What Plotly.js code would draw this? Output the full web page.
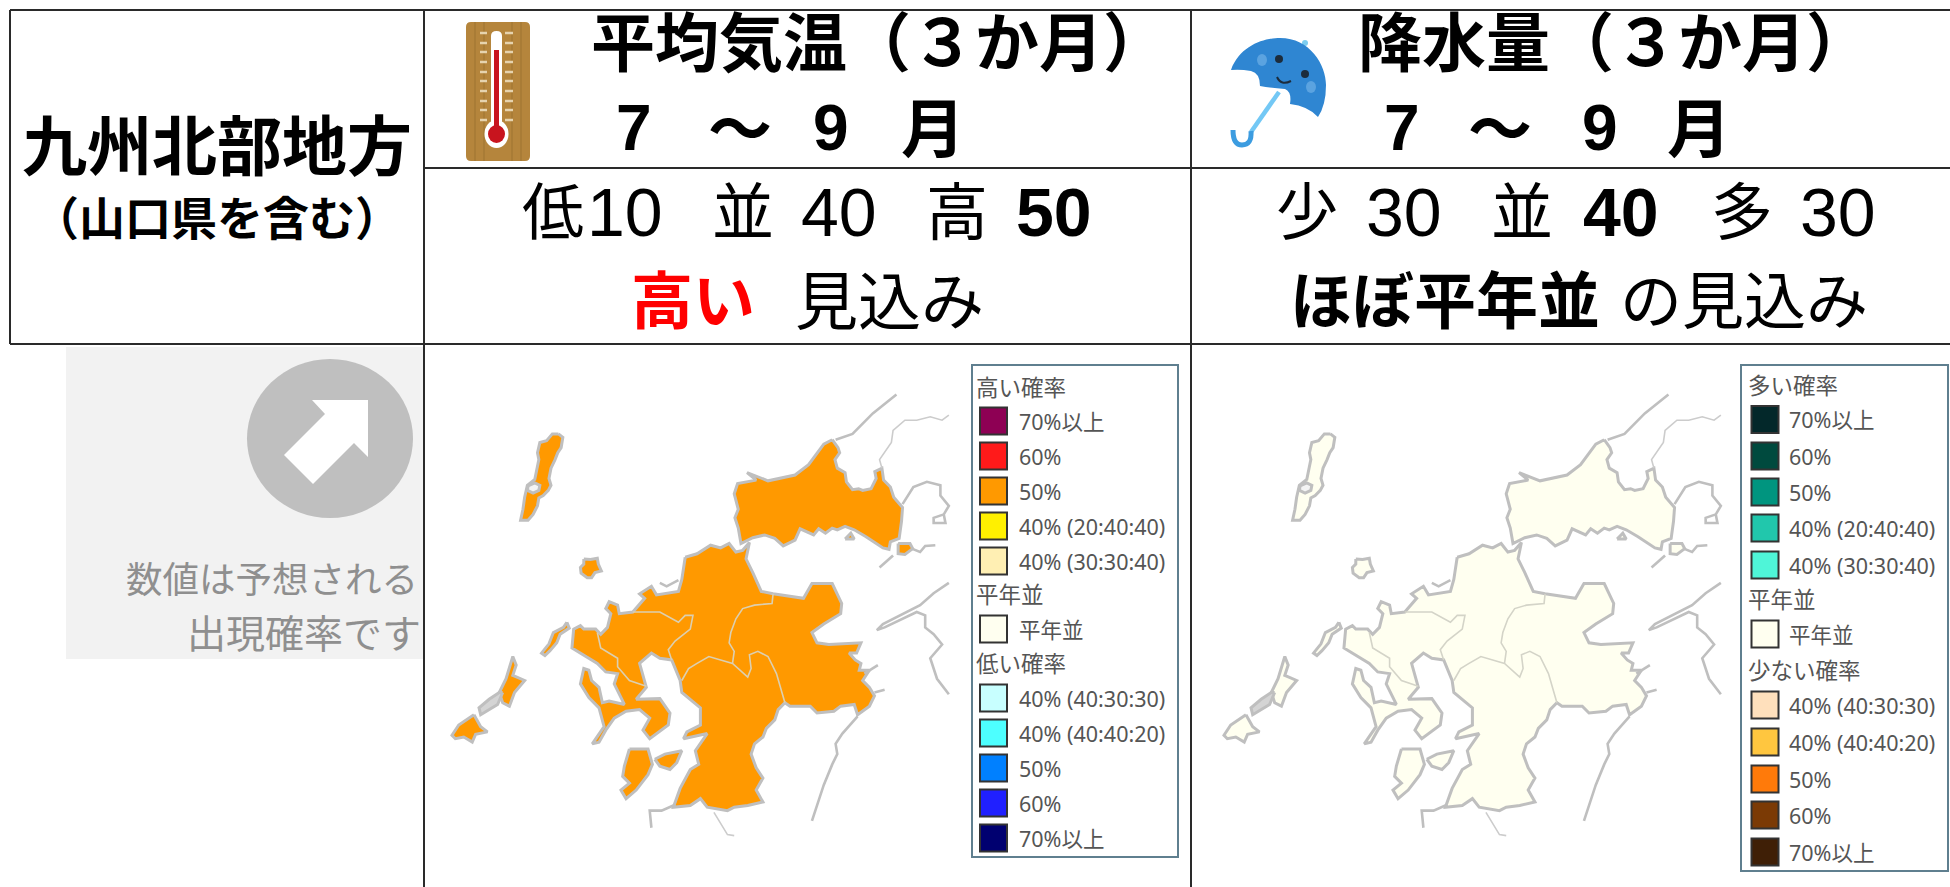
<!DOCTYPE html>
<html><head><meta charset="utf-8">
<script src="https://cdn.plot.ly/plotly-3.0.1.min.js"></script>
<style>html,body{margin:0;padding:0;background:#fff;overflow:hidden}#c{width:1950px;height:887px}</style>
</head><body><div id="c"></div>
<script>
// ---------- forecast values ----------
const tempCategories = ['低','並','高'];
const tempProb = [10,40,50];
const rainCategories = ['少','並','多'];
const rainProb = [30,40,30];

// ---------- legend content ----------
const tempLegendLabels = ['70%以上','60%','50%','40% (20:40:40)','40% (30:30:40)','平年並','40% (40:30:30)','40% (40:40:20)','50%','60%','70%以上'];
const tempLegendColors = ['#8E0054','#FF1A1A','#FF9900','#FFF000','#FFEFB3','#FFFFF0','#C8FFFF','#4DFFFF','#0080FF','#2020FF','#000070'];
const tempLegendHeads = ['高い確率','平年並','低い確率'];
const rainLegendLabels = tempLegendLabels;
const rainLegendColors = ['#03282A','#004A3E','#00957F','#21C7AC','#4FF5D8','#FFFFF0','#FFE0BC','#FFC63F','#FF7A0A','#7B3A05','#3F1F06'];
const rainLegendHeads = ['多い確率','平年並','少ない確率'];

// ---------- map geometry (map units) ----------
const tsushima = [[380,245],[393,255],[388,285],[378,300],[370,320],[358,345],[352,375],[358,395],[350,410],[335,425],[322,432],[318,455],[305,480],[290,497],[268,497],[275,465],[280,430],[288,395],[310,378],[318,345],[322,320],[318,300],[325,270],[345,265],[362,245],[380,245]];
const tsushimaGap = [[290,397],[310,388],[325,395],[322,410],[305,418],[288,410],[290,397]];
const iki = [[455,610],[475,612],[495,608],[498,625],[507,645],[488,650],[478,665],[465,665],[447,652],[445,635],[455,625],[455,610]];
const yamaguchi = [[1190,262],[1207,285],[1212,300],[1198,320],[1205,345],[1228,358],[1232,385],[1250,408],[1268,405],[1280,410],[1305,405],[1320,375],[1316,355],[1337,345],[1342,380],[1362,400],[1372,430],[1398,460],[1395,500],[1388,550],[1362,560],[1358,582],[1340,578],[1290,545],[1255,525],[1228,515],[1205,525],[1190,520],[1170,535],[1150,522],[1135,540],[1115,530],[1095,522],[1080,555],[1045,572],[1020,550],[990,540],[955,548],[920,565],[912,520],[902,490],[912,465],[900,420],[910,390],[965,380],[938,358],[1000,382],[1080,365],[1120,335],[1165,275],[1190,262]];
const oshima = [[1385,565],[1420,565],[1428,580],[1405,597],[1385,595],[1385,565]];
const bayIsle = [[1228,552],[1245,535],[1255,552],[1228,552]];
const kyushu = [[755,605],[790,595],[830,570],[860,578],[885,565],[905,590],[925,585],[945,562],[935,610],[955,650],[980,705],[1015,712],[1105,725],[1130,682],[1190,682],[1218,740],[1215,770],[1188,785],[1165,800],[1130,825],[1145,855],[1180,860],[1275,855],[1262,885],[1240,885],[1258,905],[1275,915],[1270,935],[1300,935],[1280,965],[1300,985],[1315,1010],[1300,1040],[1265,1065],[1255,1035],[1215,1040],[1195,1055],[1145,1060],[1125,1040],[1065,1040],[1050,1030],[1030,1050],[1020,1080],[995,1105],[985,1130],[960,1150],[950,1180],[965,1220],[985,1250],[965,1285],[985,1320],[940,1330],[900,1335],[880,1345],[820,1335],[800,1310],[770,1330],[720,1335],[740,1280],[770,1225],[795,1210],[785,1170],[820,1120],[750,1135],[760,1115],[800,1095],[800,1045],[745,1000],[740,965],[715,905],[680,900],[655,885],[620,915],[640,985],[610,1020],[680,1018],[710,1060],[705,1095],[650,1135],[630,1110],[650,1075],[620,1050],[580,1055],[545,1075],[520,1110],[500,1145],[480,1150],[515,1100],[500,1045],[470,1015],[445,975],[455,930],[470,935],[478,965],[500,985],[510,1030],[530,1025],[575,1035],[545,975],[555,945],[520,940],[495,915],[420,870],[425,815],[445,805],[455,815],[490,815],[505,830],[525,810],[535,770],[520,755],[530,735],[555,745],[560,770],[600,765],[635,725],[620,712],[655,690],[670,715],[735,705],[745,670],[755,605]];
const hirado = [[405,795],[412,812],[385,830],[375,855],[355,878],[340,892],[330,885],[352,858],[365,825],[395,810],[405,795]];
const fukue = [[130,1065],[150,1100],[170,1115],[135,1122],[125,1145],[100,1130],[75,1135],[65,1125],[85,1095],[130,1065]];
const nakadori = [[245,895],[255,920],[245,950],[280,965],[250,1000],[235,1040],[215,1030],[205,1000],[225,960],[235,925],[245,895]];
const gotoMid = [[215,1000],[200,1035],[150,1065],[145,1045],[175,1020],[205,1000],[215,1000]];
const amakusaW = [[590,1165],[645,1165],[658,1210],[645,1240],[610,1285],[580,1310],[565,1285],[590,1265],[570,1245],[575,1215],[590,1165]];
const amakusaE = [[665,1195],[695,1180],[745,1170],[730,1205],[710,1225],[680,1215],[665,1195]];
const landPolys = [tsushima,iki,yamaguchi,oshima,bayIsle,kyushu,hirado,fukue,nakadori,amakusaW,amakusaE];

const borderSaga = [[600,765],[680,765],[735,795],[755,775],[778,775],[770,815],[725,850],[705,875],[715,905]];
const borderSagaW = [[495,825],[505,870],[555,900],[555,925],[590,965],[640,982]];
const borderOita = [[1015,712],[1012,740],[960,745],[925,755],[905,785],[890,825],[885,855],[900,880],[895,915]];
const borderKuma = [[745,965],[765,930],[790,915],[825,895],[895,915],[940,955],[950,930],[945,890],[970,880],[1000,895],[1025,945],[1040,1000],[1050,1030]];
const innerBorders = [borderSaga,borderSagaW,borderOita,borderKuma];

const coastA = [[1200,262],[1250,245],[1310,185],[1380,130]];
const coastB = [[1398,450],[1430,400],[1470,385],[1510,395],[1510,425],[1535,455],[1520,480],[1525,505],[1490,505],[1490,490],[1520,480]];
const coastC = [[1535,680],[1490,710],[1450,745],[1400,770],[1340,800],[1322,818],[1345,810],[1440,765],[1465,775],[1465,810],[1490,830],[1515,860],[1480,900],[1500,960],[1535,1005]];
const coastD = [[1265,1070],[1220,1120],[1200,1150],[1205,1180],[1190,1210],[1165,1270],[1130,1375]];
const coastE = [[720,1330],[685,1345],[650,1345],[655,1395]];
const coastF = [[1325,920],[1285,945]];
const coastG = [[1345,992],[1315,1000]];
const coastH = [[1425,580],[1450,590],[1465,572],[1495,570]];
const coastI = [[1330,635],[1370,600]];
const coastJ = [[680,680],[700,690],[735,672]];
const coastLines = [coastA,coastB,coastC,coastD,coastE,coastF,coastG,coastH,coastI,coastJ];
const thinB = [[1337,345],[1330,320],[1365,270],[1370,235],[1405,205],[1440,205],[1480,195],[1515,205],[1535,190]];
const thinG = [[840,1350],[865,1390],[880,1415],[900,1418]];
const thinLines = [thinB,thinG];

// ---------- builders ----------
const FONT = '"Liberation Sans","Noto Sans CJK JP",sans-serif';
const xs = p => p.map(a=>a[0]), ys = p => p.map(a=>a[1]);
const traces = [];
function addMap(xa, ya, fill, inner){
  landPolys.forEach(p=>traces.push({x:xs(p),y:ys(p),xaxis:xa,yaxis:ya,mode:'lines',fill:'toself',fillcolor:fill,
    line:{color:'#BFBFBF',width:3},hoverinfo:'skip',showlegend:false}));
  [gotoMid,tsushimaGap].forEach(p=>traces.push({x:xs(p),y:ys(p),xaxis:xa,yaxis:ya,mode:'lines',fill:'toself',fillcolor:p===gotoMid?'#D4D4D4':'#F4F4F4',
    line:{color:'#BFBFBF',width:3},hoverinfo:'skip',showlegend:false}));
  innerBorders.forEach(p=>traces.push({x:xs(p),y:ys(p),xaxis:xa,yaxis:ya,mode:'lines',
    line:{color:inner,width:1.6},hoverinfo:'skip',showlegend:false}));
  coastLines.forEach(p=>traces.push({x:xs(p),y:ys(p),xaxis:xa,yaxis:ya,mode:'lines',
    line:{color:'#BFBFBF',width:2.6},hoverinfo:'skip',showlegend:false}));
  thinLines.forEach(p=>traces.push({x:xs(p),y:ys(p),xaxis:xa,yaxis:ya,mode:'lines',
    line:{color:'#CCCCCC',width:1.6},hoverinfo:'skip',showlegend:false}));
}
addMap('x2','y2','#FF9900','#DCCFB0');
addMap('x3','y3','#FFFFF0','#D4D4C8');

const ann = [];
function T(text,x,y,size,opt){opt=opt||{};
  ann.push({text:opt.bold?'<b>'+text+'</b>':text,x:x,y:y,xref:'x',yref:'y',xanchor:opt.anchor||'center',yanchor:'middle',
    showarrow:false,font:{family:opt.family||FONT,size:size,color:opt.color||'#000'},borderpad:0,align:'left',valign:'middle'});}

// legends
const LF='"Noto Sans","Noto Sans CJK JP",sans-serif';
function addLegend(labels,colors,heads,swX,labX,headX,rowY,headY){
  traces.push({x:colors.map(()=>swX),y:rowY,mode:'markers',xaxis:'x',yaxis:'y',hoverinfo:'skip',showlegend:false,
    marker:{symbol:'square',size:27,color:colors,line:{color:'#333',width:2}}});
  labels.forEach((l,i)=>T(l,labX,rowY[i],21.5,{anchor:'left',color:'#555',family:LF}));
  heads.forEach((h,i)=>T(h,headX,headY[i],22.5,{anchor:'left',color:'#555',family:LF}));
}
addLegend(tempLegendLabels,tempLegendColors,tempLegendHeads,993.5,1018,975,[421,456,491,526,561,629,698,733,768,803,838],[387,594,663]);
addLegend(rainLegendLabels,rainLegendColors,rainLegendHeads,1765,1788,1747,[419.5,456,492,528,565,634,705,742,779,815,852],[385,599,670]);

// header texts
T('九州北部地方',217,147,65,{bold:true});
T('（山口県を含む）',217,219,46,{bold:true});
T('平均気温（３か月）',879,44,64,{bold:true});
T('7',634,128,64,{bold:true}); T('～',740,130,64,{bold:true}); T('9',831,128,64,{bold:true}); T('月',933,130,64,{bold:true});
T('降水量（３か月）',1614,44,64,{bold:true});
T('7',1402,128,64,{bold:true}); T('～',1500,130,64,{bold:true}); T('9',1600,128,64,{bold:true}); T('月',1699,130,64,{bold:true});

const tempX=[[553,625],[743,839],[957,1054]], rainX=[[1307,1404],[1522,1621],[1742,1838]];
tempCategories.forEach((c,i)=>{T(c,tempX[i][0],213,62);T(String(tempProb[i]),tempX[i][1],212,68,{bold:tempProb[i]===Math.max(...tempProb)});});
rainCategories.forEach((c,i)=>{T(c,rainX[i][0],213,62);T(String(rainProb[i]),rainX[i][1],212,68,{bold:i===1});});
T('高い',693,302,62,{bold:true,color:'#FF0000'});
T('見込み',889,302,63);
T('ほぼ平年並',1445,302,62,{bold:true});
T('の見込み',1744,302,62);
T('数値は予想される',419,580,36.5,{anchor:'right',color:'#8F8F8F'});
T('出現確率です',422,634,39,{anchor:'right',color:'#8F8F8F'});

// shapes
const S=[];
const L=(x0,y0,x1,y1,c,w)=>S.push({type:'line',xref:'x',yref:'y',x0,y0,x1,y1,line:{color:c||'#2A2A2A',width:w||2},layer:'above'});
const P=(path,fill,lc,lw)=>S.push({type:'path',xref:'x',yref:'y',path,fillcolor:fill||'rgba(0,0,0,0)',line:{color:lc||'rgba(0,0,0,0)',width:lw||0},layer:'above'});
const C=(cx,cy,rx,ry,fill)=>S.push({type:'circle',xref:'x',yref:'y',x0:cx-rx,x1:cx+rx,y0:cy-ry,y1:cy+ry,fillcolor:fill,line:{width:0},layer:'above'});
// gray panel
S.push({type:'rect',xref:'x',yref:'y',x0:66,x1:423,y0:347,y1:659,fillcolor:'#F2F2F2',line:{width:0},layer:'below'});
S.push({type:'circle',xref:'x',yref:'y',x0:247,x1:413,y0:359,y1:518,fillcolor:'#BFBFBF',line:{width:0},layer:'below'});
S.push({type:'path',xref:'x',yref:'y',path:'M312,400 L368,400 L368,457 L354,443 L313,484 L284,455 L325,414 Z',fillcolor:'#FFF',line:{width:0},layer:'below'});
// legend boxes
S.push({type:'rect',xref:'x',yref:'y',x0:972,x1:1178,y0:365,y1:857,fillcolor:'#FFF',line:{color:'#5F7F8F',width:2},layer:'below'});
S.push({type:'rect',xref:'x',yref:'y',x0:1741,x1:1948,y0:365,y1:871,fillcolor:'#FFF',line:{color:'#5F7F8F',width:2},layer:'below'});
// table
L(10,10,1950,10);L(10,344,1950,344);L(10,10,10,344);L(424,10,424,887);L(1191,10,1191,887);L(424,168,1950,168);
// thermometer
P('M471,22 L525,22 Q530,22 530,27 L530,156 Q530,161 525,161 L471,161 Q466,161 466,156 L466,27 Q466,22 471,22 Z','#B5853C');
[475,484,512,521].forEach(x=>L(x,22,x,161,'#A67A35',1.5));
[33,43,52,62,72,81,91,101,110,120].forEach(y=>{L(480,y,487,y,'#E6D3AE',2.5);L(505,y,513,y,'#E6D3AE',2.5);});
P('M491,36 Q491,31 496.5,31 Q502,31 502,36 L502,124 L491,124 Z','#FFF');
C(496.5,134,12,14,'#FFF');
P('M494,50 L499,50 L499,130 L494,130 Z','#C8141E');
C(496.5,134,8.5,9,'#C8141E');
// umbrella
L(1279,92,1251,132,'#73C8F5',4.5);
P('M1251,131 Q1252,145 1242,145 Q1233,145 1233,130','rgba(0,0,0,0)','#3C9CE0',5);
C(1305,43,3,3,'#7CCDF0');
P('M1231,70 C1240,45 1265,38 1280,38 C1310,38 1326,65 1326,85 Q1326,105 1318,117 Q1308,106 1290,104 Q1292,92 1285,89 Q1270,88 1260,86 Q1260,73 1251,71 Q1240,69 1231,70 Z','#2F86D2');
C(1279,59,4,4,'#1C2C3C');C(1305,74,4,4,'#1C2C3C');
P('M1277,77 Q1281,86 1291,81','rgba(0,0,0,0)','#1C2C3C',2);
C(1262,60,5,6,'#5BA3E0');C(1311,87,5,6,'#5BA3E0');

const axOff={visible:false,fixedrange:true,showgrid:false,zeroline:false};
const layout={width:1950,height:887,margin:{l:0,r:0,t:0,b:0},paper_bgcolor:'#FFF',plot_bgcolor:'rgba(0,0,0,0)',showlegend:false,
  font:{family:FONT},shapes:S,annotations:ann,
  xaxis:{...axOff,range:[0,1950],domain:[0,1]},yaxis:{...axOff,range:[887,0],domain:[0,1]},
  xaxis2:{...axOff,range:[0,1568],domain:[430/1950,960/1950],anchor:'y2'},
  yaxis2:{...axOff,range:[1568,0],domain:[0,537/887],anchor:'x2'},
  xaxis3:{...axOff,range:[0,1568],domain:[1202/1950,1732/1950],anchor:'y3'},
  yaxis3:{...axOff,range:[1568,0],domain:[0,537/887],anchor:'x3'}};
Plotly.newPlot('c',traces,layout,{displayModeBar:false,staticPlot:true});
</script></body></html>
